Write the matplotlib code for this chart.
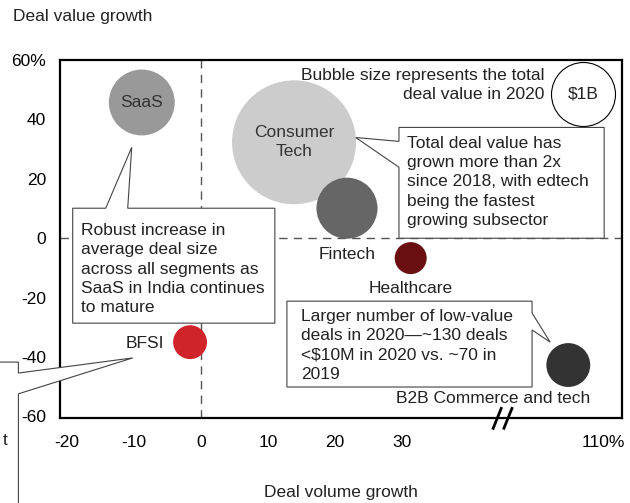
import matplotlib.pyplot as plt
import matplotlib.patches as mpatches
import numpy as np

plt.rcParams['font.family'] = ['Liberation Sans', 'DejaVu Sans']

# Données (croissance du volume et de la valeur des deals, valeur 2020 en $B)
segments = ['SaaS', 'Consumer\nTech', 'Fintech', 'Healthcare', 'BFSI', 'B2B Commerce and tech']
volume_growth = [-8.8, 13.9, 21.8, 31.3, -1.6, 104.8]
value_growth = [45.7, 32.3, 10.1, -6.7, -35.0, -42.7]
deal_value = [1.06, 3.75, 0.91, 0.25, 0.28, 0.47]
colors = ['#999999', '#cccccc', '#666666', '#6b0e11', '#d1232a', '#333333']

xticks = [-20, -10, 0, 10, 20, 30, 110]
xticklabels = ['-20', '-10', '0', '10', '20', '30', '110%']
yticks = [-60, -40, -20, 0, 20, 40, 60]
yticklabels = ['-60', '-40', '-20', '0', '20', '40', '60%']

S1B = 2123  # taille (pt^2) d'une bulle de $1B


def xpos(v):
    # axe coupé : au-delà de la coupure, 110% -> 60
    v = np.asarray(v, dtype=float)
    return np.where(v > 45, v - 50, v)


fs = 12.5
fig = plt.figure(figsize=(6.3, 5.03), dpi=100)
ax = fig.add_axes([0.0952, 0.168, 0.892, 0.7127])
ax.set_xlim(-21.0, 62.8)
ax.set_ylim(-60.7, 59.8)

for s in ax.spines.values():
    s.set_linewidth(1.6)
    s.set_color('black')
ax.set_xticks(xpos(xticks))
ax.set_xticklabels(xticklabels, fontsize=fs)
ax.set_yticks(yticks)
ax.set_yticklabels(yticklabels, fontsize=fs)
ax.tick_params(length=0)
ax.tick_params(axis='x', pad=12)
ax.tick_params(axis='y', pad=10)

# lignes pointillées
ax.axvline(0, color='#555555', lw=1, ls=(0, (6, 4.5)), zorder=1)
ax.axhline(0, color='#555555', lw=1, ls=(0, (6, 4.5)), zorder=1)

# bulles
ax.scatter(xpos(volume_growth), value_growth, s=np.array(deal_value) * S1B,
           c=colors, linewidths=0, zorder=3)

# étiquettes
ax.text(xpos(volume_growth[0]), value_growth[0], segments[0], ha='center', va='center',
        fontsize=fs, color='#333333', zorder=4)
ax.text(xpos(volume_growth[1]), value_growth[1], segments[1], ha='center', va='center',
        fontsize=fs, color='#333333', zorder=4, linespacing=1.32)
ax.text(21.8, -5.4, segments[2], ha='center', va='center', fontsize=fs, color='#222222')
ax.text(31.3, -16.8, segments[3], ha='center', va='center', fontsize=fs, color='#222222')
ax.text(-8.4, -35.3, segments[4], ha='center', va='center', fontsize=fs, color='#222222')
ax.text(43.6, -53.8, segments[5], ha='center', va='center', fontsize=fs, color='#222222')

# légende de taille
ax.text(51.3, 51.6, 'Bubble size represents the total\ndeal value in 2020', ha='right',
        va='center', fontsize=fs, color='#222222', linespacing=1.28)
ax.scatter([57.0], [48.7], s=S1B, facecolor='white', edgecolor='black', lw=0.8,
           clip_on=False, zorder=3)
ax.text(57.0, 48.7, '$1B', ha='center', va='center', fontsize=fs, color='#222222')


def callout(verts):
    p = mpatches.Polygon(verts, closed=True, facecolor='white', edgecolor='#444444',
                         lw=0.8, clip_on=False, zorder=5)
    ax.add_patch(p)


ls_box = 1.36

# encadré Consumer Tech
callout([(29.55, 37.3), (60.15, 37.3), (60.15, 0), (29.55, 0), (29.55, 23.9),
         (23.1, 33.9), (29.55, 32.6)])
ax.text(30.7, 19.0, 'Total deal value has\ngrown more than 2x\nsince 2018, with edtech\n'
        'being the fastest\ngrowing subsector', ha='left', va='center', fontsize=fs,
        color='#222222', linespacing=ls_box, zorder=6)

# encadré SaaS
callout([(-19.1, 10.1), (-14.18, 10.1), (-10.3, 30.6), (-10.9, 10.1), (11.04, 10.1),
         (11.04, -28.6), (-19.1, -28.6)])
ax.text(-17.8, -10.4, 'Robust increase in\naverage deal size\nacross all segments as\n'
        'SaaS in India continues\nto mature', ha='left', va='center', fontsize=fs,
        color='#222222', linespacing=ls_box, zorder=6)

# encadré B2B
callout([(12.84, -21.2), (49.4, -21.2), (49.4, -25.2), (52.1, -35.0), (49.4, -30.9),
         (49.4, -50.1), (12.84, -50.1)])
ax.text(14.9, -36.0, 'Larger number of low-value\ndeals in 2020\u2014~130 deals\n'
        '<$10M in 2020 vs. ~70 in\n2019', ha='left', va='center', fontsize=fs,
        color='#222222', linespacing=ls_box, zorder=6)

# encadré BFSI (coupé par le bord)
callout([(-60, -41.7), (-27.2, -41.7), (-27.2, -45.4), (-10.15, -40.3), (-27.2, -52.4),
         (-27.2, -90), (-60, -90)])
ax.text(-28.8, -68.2, 't', ha='right', va='center', fontsize=fs, color='#222222', zorder=6)

# coupure de l'axe
for xb in [44.2, 45.8]:
    ax.plot([xb - 0.6, xb + 0.6], [-64.0, -57.3], color='black', lw=2,
            clip_on=False, zorder=7)

fig.text(13 / 630, 1 - 17 / 503, 'Deal value growth', ha='left', va='center',
         fontsize=fs, color='#222222')
fig.text(341 / 630, 1 - 492 / 503, 'Deal volume growth', ha='center', va='center',
         fontsize=fs, color='#222222')

plt.savefig('out.png', dpi=100)
